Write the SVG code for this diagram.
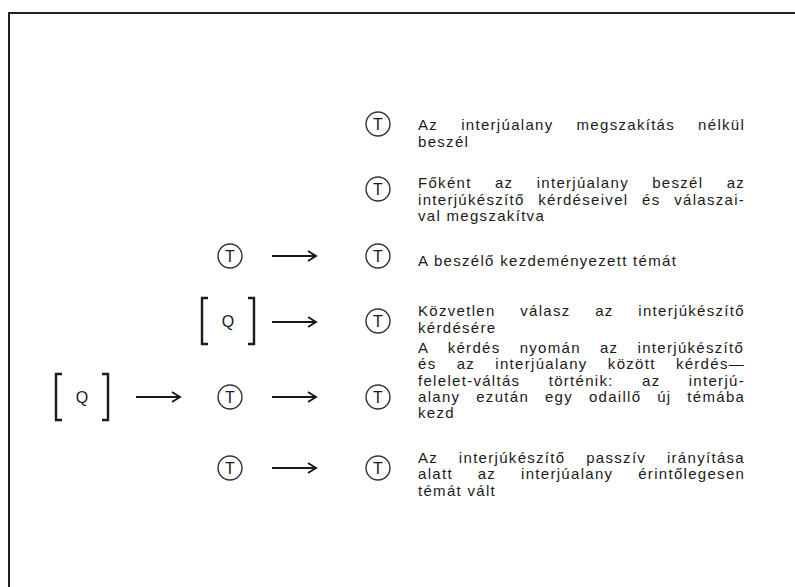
<svg xmlns="http://www.w3.org/2000/svg" width="795" height="587" viewBox="0 0 795 587">
<style>
.frame{stroke:#222;stroke-width:2;fill:none}
.c{fill:none;stroke:#333;stroke-width:1.4}
.sym{font-family:"Liberation Sans",Arial,sans-serif;font-size:16px;fill:#1a1a1a;text-anchor:middle}
.br{fill:none;stroke:#1a1a1a;stroke-width:2.4}
.arr{fill:none;stroke:#1a1a1a;stroke-width:1.9}
.t{font-family:"Liberation Sans",Arial,sans-serif;font-size:15px;letter-spacing:1.3px;fill:#1a1a1a}
</style>
<defs>
<g id="tnode"><circle cx="0" cy="0" r="12" class="c"/><text x="0" y="6" class="sym">T</text></g>
<g id="qnode"><path d="M-20,-23 h-6 v46 h6 M20,-23 h6 v46 h-6" class="br"/><text x="0" y="6" class="sym">Q</text></g>
</defs>
<rect width="795" height="587" fill="#fff"/>
<path d="M8,13 H795 M9,13 V587" class="frame"/>

<g id="row1">
<use href="#tnode" x="378" y="124"/>
<text class="t" x="418" y="130"><tspan word-spacing="17.6">Az interjúalany megszakítás nélkül</tspan><tspan x="418" dy="17">beszél</tspan></text>
</g>

<g id="row2">
<use href="#tnode" x="378" y="189"/>
<text class="t" x="418" y="188"><tspan word-spacing="17.8">Főként az interjúalany beszél az</tspan><tspan x="418" dy="16.5" word-spacing="8.2">interjúkészítő kérdéseivel és válaszai-</tspan><tspan x="418" dy="16.5">val megszakítva</tspan></text>
</g>

<g id="row3">
<use id="r3a" href="#tnode" x="230" y="256"/>
<use id="r3b" href="#tnode" x="378" y="256"/>
<text class="t" x="418" y="266">A beszélő kezdeményezett témát</text>
</g>

<g id="row4">
<use id="r4a" href="#qnode" x="228" y="321"/>
<use id="r4b" href="#tnode" x="378" y="321"/>
<text class="t" x="418" y="316"><tspan word-spacing="19.2">Közvetlen válasz az interjúkészítő</tspan><tspan x="418" dy="16.5">kérdésére</tspan></text>
</g>

<g id="row5">
<use id="r5a" href="#qnode" x="82" y="397"/>
<use id="r5b" href="#tnode" x="230" y="397"/>
<use id="r5c" href="#tnode" x="378" y="397"/>
<text class="t" x="418" y="353"><tspan word-spacing="13.7">A kérdés nyomán az interjúkészítő</tspan><tspan x="418" dy="16.25" word-spacing="14.75">és az interjúalany között kérdés—</tspan><tspan x="418" dy="16.25" word-spacing="22.8">felelet-váltás történik: az interjú-</tspan><tspan x="418" dy="16.25" word-spacing="10.4">alany ezután egy odaillő új témába</tspan><tspan x="418" dy="16.25">kezd</tspan></text>
</g>

<g id="row6">
<use id="r6a" href="#tnode" x="230" y="468"/>
<use id="r6b" href="#tnode" x="378" y="468"/>
<text class="t" x="418" y="463"><tspan word-spacing="15.3">Az interjúkészítő passzív irányítása</tspan><tspan x="418" dy="16.25" word-spacing="19.4">alatt az interjúalany érintőlegesen</tspan><tspan x="418" dy="16.25">témát vált</tspan></text>
</g>

<g id="connectors">
<path class="arr" d="M272,256 H316 M308,251 L316,256 L308,261"/>
<path class="arr" d="M272,322 H316 M308,317 L316,322 L308,327"/>
<path class="arr" d="M136,397 H180 M172,392 L180,397 L172,402"/>
<path class="arr" d="M272,397 H316 M308,392 L316,397 L308,402"/>
<path class="arr" d="M272,468 H316 M308,463 L316,468 L308,473"/>
</g>
</svg>
